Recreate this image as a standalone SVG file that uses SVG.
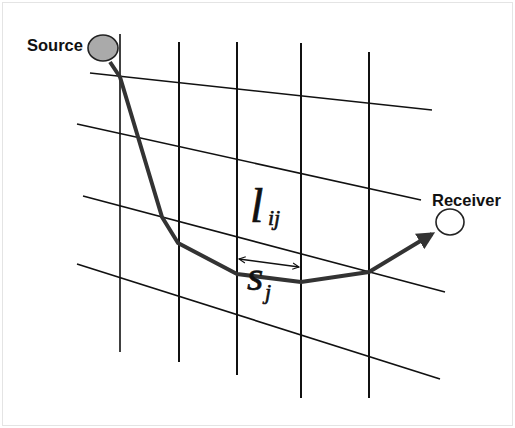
<svg xmlns="http://www.w3.org/2000/svg" width="515" height="428" viewBox="0 0 515 428">
<defs>
<style>
.grid{stroke:#111;stroke-width:1.6;fill:none}
.vert{stroke:#111;stroke-width:2;fill:none}
.ray{stroke:#333;stroke-width:4;fill:none;stroke-linejoin:round}
.lbl{font-family:"Liberation Sans",Arial,sans-serif;font-weight:bold;font-size:16.5px;fill:#111}
.math{font-family:"Liberation Serif","Times New Roman",serif;font-style:italic;fill:#111;stroke:#111;stroke-width:0.6}
</style>
<marker id="ah" viewBox="0 0 10 10" refX="8" refY="5" markerWidth="4.5" markerHeight="4.5" orient="auto" markerUnits="strokeWidth">
<path d="M0,0 L10,5 L0,10 Z" fill="#333"/>
</marker>
<marker id="open" viewBox="0 0 10 10" refX="9" refY="5" markerWidth="8" markerHeight="8" orient="auto-start-reverse" markerUnits="userSpaceOnUse">
<path d="M1,1 L9,5 L1,9" fill="none" stroke="#111" stroke-width="1.3"/>
</marker>
</defs>
<rect x="0" y="0" width="515" height="428" fill="#fff"/>
<rect x="2.5" y="2.5" width="510" height="423" fill="none" stroke="#e4e4e4" stroke-width="1"/>
<g id="grid">
<line class="grid" x1="120" y1="34" x2="120" y2="352" stroke-width="1.2"/>
<line class="vert" x1="179" y1="42" x2="179" y2="362"/>
<line class="vert" x1="237" y1="42" x2="237" y2="375"/>
<line class="vert" x1="301" y1="43" x2="301" y2="398"/>
<line class="vert" x1="369" y1="52" x2="369" y2="398"/>
<line class="grid" x1="90" y1="73" x2="432" y2="110"/>
<line class="grid" x1="77" y1="124" x2="421" y2="200"/>
<line class="grid" x1="83" y1="196" x2="445" y2="292"/>
<line class="grid" x1="77" y1="264" x2="440" y2="379"/>
</g>
<g id="connectors">
<path class="ray" d="M110,62 L120,77 L162,217 L178,243 L237,274 L301,282 L369,272 L432,234" marker-end="url(#ah)"/>
<line x1="239" y1="259" x2="299" y2="267" stroke="#111" stroke-width="1.3" marker-start="url(#open)" marker-end="url(#open)"/>
</g>
<g id="source">
<ellipse cx="103" cy="48" rx="15" ry="13" fill="#aaaaaa" stroke="#222" stroke-width="1.6"/>
<text class="lbl" x="27" y="51">Source</text>
</g>
<g id="receiver">
<ellipse cx="450" cy="222" rx="14" ry="13" fill="#fff" stroke="#222" stroke-width="1.6"/>
<text class="lbl" x="432" y="206">Receiver</text>
</g>
<g id="labels">
<text class="math" x="250" y="222" font-size="48">l</text>
<text class="math" x="268" y="225" font-size="22">ij</text>
<text class="math" x="247" y="290" font-size="42">s</text>
<text class="math" x="265" y="299" font-size="22">j</text>
</g>
</svg>
